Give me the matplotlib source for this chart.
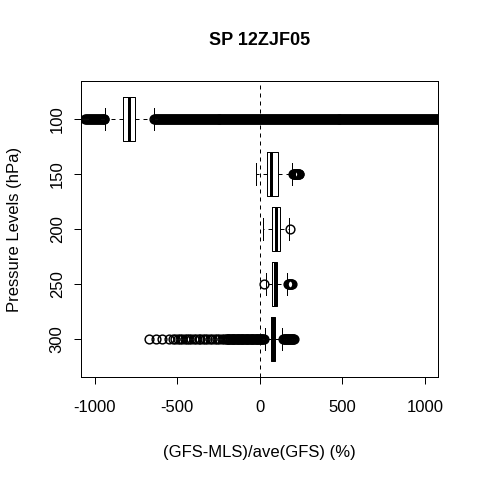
import matplotlib
matplotlib.use("Agg")
import matplotlib.pyplot as plt

plt.rcParams['font.family'] = ['Liberation Sans', 'DejaVu Sans']

# pressure levels (hPa), one box per level, top to bottom
levels = [100, 150, 200, 250, 300]

# five-number summaries, per level
whislo = [-937, -26, 22, 37, 30]
q1 = [-826, 44, 75, 75, 70]
med = [-789, 69, 97, 90, 81]
q3 = [-753, 108, 120, 106, 92]
whishi = [-643, 197, 178, 165, 136]

# outliers per level (dense runs read as closely spaced points)
fl_100 = [-1059, -1053, -1047, -1041, -1035, -1029, -1023, -1017, -1011, -1005,
          -999, -993, -987, -981, -975, -969, -963, -957, -951, -945, -940,
          -640, -634, -628, -622, -616, -610, -604, -598, -592, -586, -580, -574, -568, -562, -556,
          -550, -544, -538, -532, -526, -520, -514, -508, -502, -496, -490, -484, -478, -472, -466,
          -460, -454, -448, -442, -436, -430, -424, -418, -412, -406, -400, -394, -388, -382, -376,
          -370, -364, -358, -352, -346, -340, -334, -328, -322, -316, -310, -304, -298, -292, -286,
          -280, -274, -268, -262, -256, -250, -244, -238, -232, -226, -220, -214, -208, -202, -196,
          -190, -184, -178, -172, -166, -160, -154, -148, -142, -136, -130, -124, -118, -112, -106,
          -100, -94, -88, -82, -76, -70, -64, -58, -52, -46, -40, -34, -28, -22, -16,
          -10, -4, 2, 8, 14, 20, 26, 32, 38, 44, 50, 56, 62, 68, 74,
          80, 86, 92, 98, 104, 110, 116, 122, 128, 134, 140, 146, 152, 158, 164,
          170, 176, 182, 188, 194, 200, 206, 212, 218, 224, 230, 236, 242, 248, 254,
          260, 266, 272, 278, 284, 290, 296, 302, 308, 314, 320, 326, 332, 338, 344,
          350, 356, 362, 368, 374, 380, 386, 392, 398, 404, 410, 416, 422, 428, 434,
          440, 446, 452, 458, 464, 470, 476, 482, 488, 494, 500, 506, 512, 518, 524,
          530, 536, 542, 548, 554, 560, 566, 572, 578, 584, 590, 596, 602, 608, 614,
          620, 626, 632, 638, 644, 650, 656, 662, 668, 674, 680, 686, 692, 698, 704,
          710, 716, 722, 728, 734, 740, 746, 752, 758, 764, 770, 776, 782, 788, 794,
          800, 806, 812, 818, 824, 830, 836, 842, 848, 854, 860, 866, 872, 878, 884,
          890, 896, 902, 908, 914, 920, 926, 932, 938, 944, 950, 956, 962, 968, 974,
          980, 986, 992, 998, 1004, 1010, 1016, 1022, 1028, 1034, 1040, 1046, 1052, 1058, 1064,
          1070, 1076, 1082, 1088, 1094, 1100]
fl_150 = [201, 204, 207, 211, 214, 218, 221, 225, 228, 231, 235, 238]
fl_200 = [184]
fl_250 = [23, 170, 174, 178, 182, 186, 190, 194]
fl_300 = [-669, -629, -592, -548, -527, -512, -498, -485, -470, -455, -440, -428,
          -415, -401, -385, -371, -360, -345, -330, -318, -302, -288, -272, -258,
          -244, -230, -216, -205, -200, -195, -190, -185, -180, -175, -170, -165,
          -160, -155, -150, -145, -140, -135, -130, -125, -120, -115, -110, -105,
          -100, -95, -90, -85, -80, -75, -70, -65, -60, -55, -50, -45, -40, -35,
          -30, -25, -20, -15, -10, -5, 0, 5, 10, 15, 20, 24,
          143, 147, 151, 155, 159, 163, 167, 171, 175, 179, 183, 187, 191, 195,
          199, 203, 207]
fliers = [fl_100, fl_150, fl_200, fl_250, fl_300]

xticks = [-1000, -500, 0, 500, 1000]

stats = []
for i in range(len(levels)):
    stats.append({'whislo': whislo[i], 'q1': q1[i], 'med': med[i], 'q3': q3[i],
                  'whishi': whishi[i], 'fliers': fliers[i]})

px = 0.72  # one pixel in points at dpi 100
fig = plt.figure(figsize=(4.8, 4.8), dpi=100)
ax = fig.add_axes([0.1694, 0.2140, 0.7438, 0.6173])

pos = list(range(1, len(levels) + 1))
ax.axvline(0, color='black', lw=px, linestyle=(0, (4, 4)), zorder=1)
ax.bxp(stats, positions=pos, widths=0.8, capwidths=0.4, orientation='horizontal',
       boxprops=dict(color='black', lw=px),
       whiskerprops=dict(color='black', lw=px, linestyle=(0, (4, 4))),
       capprops=dict(color='black', lw=px),
       medianprops=dict(color='black', lw=3 * px, solid_capstyle='butt'),
       flierprops=dict(marker='o', markerfacecolor='none', markeredgecolor='black',
                       markersize=6.3, markeredgewidth=1.05))

ax.set_xlim(-1080, 1080)
ax.set_ylim(5.7, 0.3)
ax.set_xticks(xticks)
ax.set_xticklabels([str(v) for v in xticks])
ax.set_yticks(pos)
ax.set_yticklabels([str(v) for v in levels], rotation=90, va='center')
ax.tick_params(axis='both', direction='out', length=5, width=px, labelsize=12, colors='black')
ax.tick_params(axis='x', pad=11.5)
ax.tick_params(axis='y', pad=7)
for s in ax.spines.values():
    s.set_linewidth(px)

ax.set_xlabel('(GFS-MLS)/ave(GFS) (%)', fontsize=12, va='center')
ax.xaxis.set_label_coords(0.5, -0.2555)
ax.set_ylabel('Pressure Levels (hPa)', fontsize=12, va='center')
ax.yaxis.set_label_coords(-0.1885, 0.5)
ax.text(0.5, 1.138, 'SP 12ZJF05', transform=ax.transAxes, ha='center', va='center',
        fontsize=13, fontweight='bold')

fig.savefig('out.png', dpi=100)
